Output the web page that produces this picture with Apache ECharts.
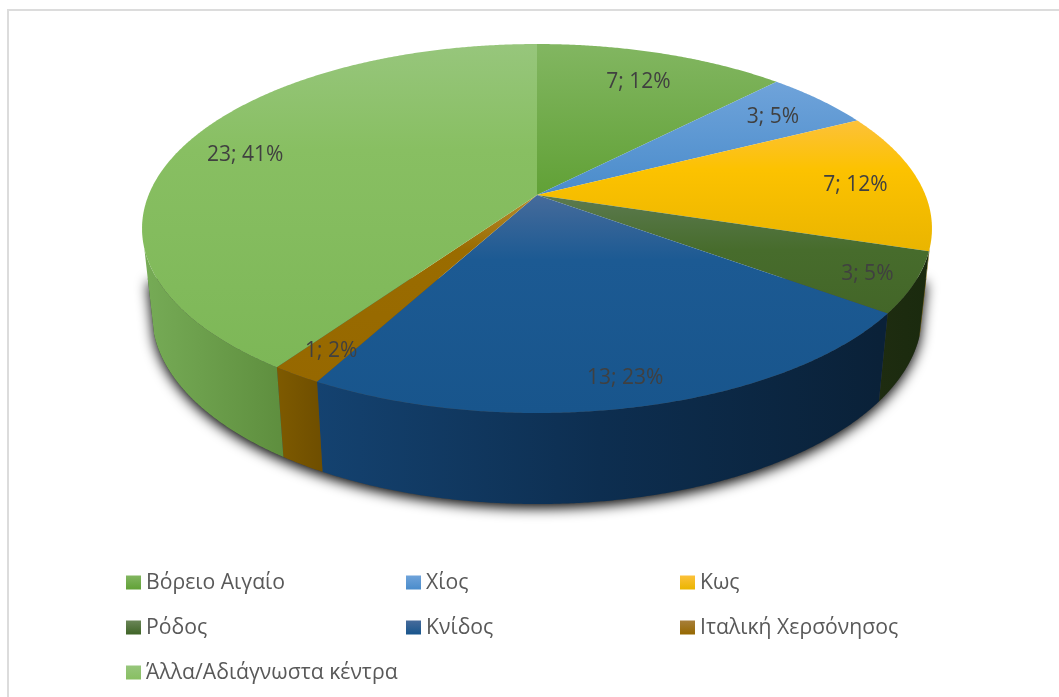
<!DOCTYPE html>
<html><head><meta charset="utf-8">
<style>html,body{margin:0;padding:0;background:#fff}#c{width:1059px;height:697px}</style>
<script src="https://cdn.jsdelivr.net/npm/echarts@6/dist/echarts.min.js"></script>
</head><body><div id="c"></div>
<script>
// ---- data ----
const categories = ['Βόρειο Αιγαίο','Χίος','Κως','Ρόδος','Κνίδος','Ιταλική Χερσόνησος','Άλλα/Αδιάγνωστα κέντρα'];
const counts = [7,3,7,3,13,1,23];
const percents = [12,5,12,5,23,2,41];
// ---- styles ----
const topStops = [
  [[44,'#82b661'],[195,'#61a136']],
  [[82,'#6fa3da'],[195,'#4a8ccb']],
  [[120,'#fcc13a'],[170,'#fcc200'],[250,'#eab500']],
  [[195,'#5c7a50'],[250,'#476c2c'],[313,'#436628']],
  [[195,'#466b9b'],[260,'#1c5a93'],[413,'#18558c']],
  [[195,'#b58a30'],[250,'#9a6c00'],[382,'#966800']],
  [[44,'#97c67c'],[150,'#88bf62'],[367,'#7db757']]
];
const wallStops = [
  [[700,'#4a7a2a'],[900,'#3a6020']],
  [[800,'#2d5f90'],[900,'#24507a']],
  [[880,'#a08000'],[932,'#8a6e00']],
  [[880,'#1e2c10'],[930,'#1a2a0e']],
  [[317,'#144270'],[600,'#0d2e50'],[880,'#0a2138']],
  [[277,'#7e5a00'],[323,'#6e4e00']],
  [[145,'#76ab56'],[284,'#5e8e3e']]
];
const legendStops = [
  ['#82b661','#61a136'],['#6fa3da','#4a8ccb'],['#fcc13a','#eab500'],['#6a8558','#3f6426'],
  ['#466b9b','#18558c'],['#a77f3a','#966800'],['#97c67c','#88bf62']
];
const legendCols = [126,406,680], legendRows = [572,617,662];
const labelRadius = [0.81,0.835,0.835,0.875,0.855,0.855,0.83];
const LABEL_DY = 2;
// ---- projection of the tilted disc ----
const CX=537, APEX_Y=195, A=388.4, B=178.4, K=0.1816;
const BASE_Y=279.5, BASE_SX=0.975, BASE_SY=1.03;
const WALL_VMIN=0.28;
const total = counts.reduce((a,b)=>a+b,0);
function topPt(t,r){
  r = r===undefined?1:r;
  const u=Math.sin(t), v=-Math.cos(t), w=1-K*v;
  return [CX+r*A*u/w, APEX_Y+r*B*v/w];
}
function basePt(t){
  const p=topPt(t);
  return [CX+BASE_SX*(p[0]-CX), BASE_Y+BASE_SY*(p[1]-APEX_Y)];
}
const ranges=[]; (function(){let c=0;counts.forEach(v=>{ranges.push([c/total*2*Math.PI,(c+v)/total*2*Math.PI]);c+=v;});})();
function arc(a,b,f){const pts=[];const n=Math.max(2,Math.ceil((b-a)/0.006));for(let i=0;i<=n;i++)pts.push(f(a+(b-a)*i/n));return pts;}
function grad(stops,horizontal){
  const lo=stops[0][0],hi=stops[stops.length-1][0];
  const colorStops=stops.map(s=>({offset:(s[0]-lo)/(hi-lo),color:s[1]}));
  return horizontal?{type:'linear',x:lo,y:0,x2:hi,y2:0,global:true,colorStops}
                   :{type:'linear',x:0,y:lo,x2:0,y2:hi,global:true,colorStops};
}
const isVisibleWall=t=>(-Math.cos(t))>=WALL_VMIN;
function wallPts(a,b){
  const ang=arc(a,b,t=>t).filter(isVisibleWall);
  if(ang.length<2)return null;
  return ang.map(t=>topPt(t)).concat(ang.slice().reverse().map(t=>basePt(t)));
}
// outline of the shadow caster: the visible base arc, closed part-way up the two side edges
function shadowPts(){
  const ang=arc(0,2*Math.PI,t=>t).filter(isVisibleWall);
  const first=ang[0], last=ang[ang.length-1];
  const mix=(t,f)=>{const a=topPt(t),b=basePt(t);return [a[0]+(b[0]-a[0])*f,a[1]+(b[1]-a[1])*f];};
  return [mix(first,0.35)].concat(ang.map(t=>basePt(t)),[mix(last,0.35)]);
}
const series=[];
// shadow beneath the disc
series.push({type:'custom',name:'shadow',coordinateSystem:'none',silent:true,z:1,data:[total],
  renderItem:()=>({type:'polygon',shape:{points:shadowPts()},
    style:{fill:'#444',shadowBlur:13,shadowColor:'rgba(0,0,0,1)',shadowOffsetY:4}})});
// walls
categories.forEach((n,i)=>series.push({type:'custom',name:'wall'+i,coordinateSystem:'none',silent:true,z:2,data:[counts[i]],
  renderItem:()=>{const pts=wallPts(ranges[i][0],ranges[i][1]);
    return pts?{type:'polygon',shape:{points:pts},style:{fill:grad(wallStops[i],true)}}:{type:'group',children:[]};}}));
// top faces; these carry the legend
categories.forEach((n,i)=>series.push({type:'custom',name:n,coordinateSystem:'none',silent:true,z:3,data:[counts[i]],
  itemStyle:{color:{type:'linear',x:0,y:0,x2:0,y2:1,colorStops:[{offset:0,color:legendStops[i][0]},{offset:1,color:legendStops[i][1]}]}},
  renderItem:()=>({type:'polygon',shape:{points:[[CX,APEX_Y]].concat(arc(ranges[i][0],ranges[i][1],t=>topPt(t)))},
    style:{fill:grad(topStops[i],false)}})}));
// data labels
categories.forEach((n,i)=>series.push({type:'custom',name:'label'+i,coordinateSystem:'none',silent:true,z:4,data:[counts[i]],
  renderItem:()=>{const p=topPt((ranges[i][0]+ranges[i][1])/2,labelRadius[i]);
    return {type:'text',x:p[0],y:p[1]+LABEL_DY,style:{text:counts[i]+'; '+percents[i]+'%',fill:'#404040',
      font:'21px "Open Sans"',align:'center',verticalAlign:'middle'}};}}));
const legend=categories.map((n,i)=>({data:[{name:n,icon:'rect'}],selectedMode:false,orient:'horizontal',padding:0,
  left:legendCols[i%3],top:legendRows[Math.floor(i/3)],itemWidth:15,itemHeight:14,itemGap:0,
  textStyle:{color:'#595959',fontSize:21.2,fontFamily:'"Open Sans"'}}));
const chart=echarts.init(document.getElementById('c'),null,{renderer:'canvas'});
chart.setOption({animation:false,backgroundColor:'#fff',legend,series,
  graphic:[{type:'polyline',silent:true,shape:{points:[[8,697],[8,10],[1059,10]]},style:{stroke:'#dcdcdc',lineWidth:2,fill:null}}]});
</script></body></html>
